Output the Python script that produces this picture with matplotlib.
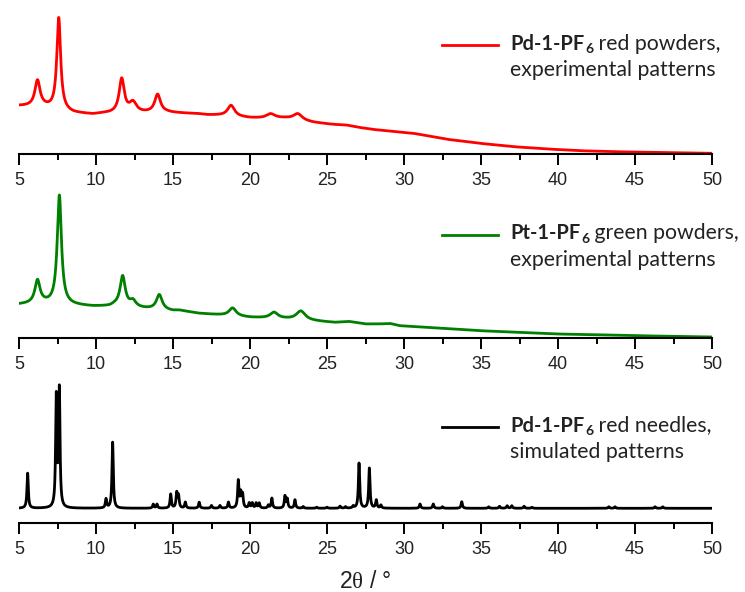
import numpy as np
import matplotlib
matplotlib.use('Agg')
import matplotlib.pyplot as plt
from matplotlib.lines import Line2D
from matplotlib.ticker import MultipleLocator

plt.rcParams['mathtext.fontset'] = 'custom'
plt.rcParams['mathtext.rm'] = 'Liberation Serif'

# --- Pd-1-PF6 red powders (experimental) ---
red_bg_x = [5, 6.6, 8.5, 9.8, 10.5, 11, 13, 14.6, 15.2, 16.7, 17.2, 18, 20, 20.9, 22.3,
            24.1, 25.4, 26.2, 27.1, 28, 30.6, 32.8, 34.9, 37.1, 39.3, 41.4, 43.6, 45.8, 50]
red_bg_y = [48, 47, 41, 39.5, 40.5, 40.5, 41, 41.5, 41, 40, 39, 38.5, 36, 35.5, 35.5,
            31.5, 29.5, 29, 26.5, 24.5, 20.7, 14.7, 10.7, 7.3, 5, 3.3, 2.3, 1.7, 0.7]
red_pos = [6.2, 7.58, 11.67, 12.4, 14.0, 18.77, 21.34, 23.1]
red_amp = [26, 92, 34, 10, 18, 11, 4.5, 6.5]
red_fwhm = [0.4, 0.3, 0.4, 0.55, 0.45, 0.55, 0.7, 0.7]

# --- Pt-1-PF6 green powders (experimental) ---
green_bg_x = [5, 6.6, 8.1, 8.75, 9.8, 10.9, 11.2, 13.05, 15, 15.4, 16.7, 18, 20, 22.3,
              24.6, 25.5, 26.4, 27.5, 28.4, 29.1, 29.7, 32.1, 34.9, 37.5, 39.9, 42.5, 45.1, 50]
green_bg_y = [33.5, 34.5, 33, 32.5, 31.5, 31.5, 32.5, 29.5, 27, 27.5, 24.5, 23, 20.5, 19,
              16.5, 15.5, 16.5, 14, 14, 14.5, 12.3, 10, 7.3, 5.7, 4, 3.3, 2.3, 1]
green_pos = [6.2, 7.62, 11.73, 12.4, 14.11, 18.87, 21.56, 23.3]
green_amp = [23, 109, 30, 6, 15, 8, 6, 9]
green_fwhm = [0.4, 0.33, 0.4, 0.45, 0.45, 0.55, 0.6, 0.7]

# --- Pd-1-PF6 red needles (simulated from single crystal) ---
sim_base = 14.7
sim_pos = [5.56, 7.42, 7.62, 10.65, 11.08, 13.72, 13.96, 14.85, 15.24, 15.36, 15.8,
           16.7, 17.5, 18.05, 18.6, 19.24, 19.4, 19.52, 19.95, 20.15, 20.4, 20.6, 21.19,
           21.42, 22.27, 22.42, 22.92, 23.45, 24.33, 25.0, 25.85, 26.2, 26.7, 27.08,
           27.75, 28.2, 28.5, 31.04, 31.9, 32.5, 33.75, 35.5, 36.2, 36.7, 37.0, 37.8,
           38.3, 43.3, 43.7, 46.3, 46.8]
sim_amp = [35, 110, 117, 9, 66, 4, 4, 14, 15, 12, 6,
           6, 2.7, 2.7, 6, 27, 14, 13, 5, 5, 5, 5, 3,
           10, 12, 9, 8.4, 1.7, 1, 1, 2, 1.5, 2, 45,
           40, 8, 3, 4.3, 4.3, 1.5, 6.6, 1.5, 2, 2.5, 2.5, 2,
           1, 1.5, 1.5, 1.5, 1.5]
sim_fwhm = 0.1

panel_labels = [('Pd-1-PF', '6', ' red powders,', 'experimental patterns'),
                ('Pt-1-PF', '6', ' green powders,', 'experimental patterns'),
                ('Pd-1-PF', '6', ' red needles,', 'simulated patterns')]
colors = ['#ff0000', '#008000', '#000000']

two_theta = np.arange(5.0, 50.0001, 0.005)


def lorentz(x, pos, amp, fwhm):
    hw = fwhm / 2.0
    return amp / (1.0 + ((x - pos) / hw) ** 2)


def pattern(bg_x, bg_y, pos, amp, fwhm):
    y = np.interp(two_theta, bg_x, bg_y)
    for p, a, w in zip(pos, amp, fwhm):
        y = y + lorentz(two_theta, p, a, w)
    return y


red = pattern(red_bg_x, red_bg_y, red_pos, red_amp, red_fwhm)
green = pattern(green_bg_x, green_bg_y, green_pos, green_amp, green_fwhm)
sim = pattern([5, 50], [sim_base, sim_base], sim_pos, sim_amp, [sim_fwhm] * len(sim_pos))

W, H = 745, 592
fig = plt.figure(figsize=(W / 100, H / 100), dpi=100)


def fx(x):
    return x / W


def fy(y):
    return 1 - y / H


# panel extents in pixels (top, bottom)
extents = [(10, 154), (188, 338), (378, 523)]
curves = [red, green, sim]
widths = [2.0, 2.0, 2.0]

axes = []
for (top, bottom), y, c, lw in zip(extents, curves, colors, widths):
    ax = fig.add_axes([fx(19), fy(bottom), 693 / W, (bottom - top) / H])
    ax.plot(two_theta, y, color=c, lw=lw)
    ax.set_xlim(5, 50)
    ax.set_ylim(0, bottom - top)
    for s in ['left', 'right', 'top']:
        ax.spines[s].set_visible(False)
    ax.spines['bottom'].set_linewidth(1.5)
    ax.set_yticks([])
    ax.xaxis.set_major_locator(MultipleLocator(5))
    ax.xaxis.set_minor_locator(MultipleLocator(2.5))
    ax.tick_params(axis='x', which='major', direction='out', length=8, width=1.4, pad=5,
                   labelsize=13, labelcolor='#222222')
    ax.tick_params(axis='x', which='minor', direction='out', length=4.5, width=1.4)
    for lab in ax.get_xticklabels():
        lab.set_family('Liberation Sans')
    axes.append(ax)

# legend entries: line sample + bold compound name with subscript
FS = 15.3
FS_BOLD = 14.4
leg_y = [45, 235, 427]
for ax, ly, c, (name, sub, rest, line2) in zip(axes, leg_y, colors, panel_labels):
    fig.add_artist(Line2D([fx(442), fx(498)], [fy(ly), fy(ly)], transform=fig.transFigure,
                          color=c, lw=2))
    t1 = fig.text(fx(510), fy(ly + 4.5), name, fontsize=FS_BOLD, fontweight='bold',
                  family='Lato', va='baseline', color='#222222')
    t2 = ax.annotate(sub, xy=(1, 0), xycoords=t1, xytext=(0.5, -1.2),
                     textcoords='offset points', fontsize=FS * 0.65, fontweight='bold',
                     family='Lato', va='bottom', ha='left', color='#222222',
                     annotation_clip=False)
    ax.annotate(rest, xy=(1, 0), xycoords=t2, xytext=(0, 1.2),
                textcoords='offset points', fontsize=FS, family='Lato',
                va='bottom', ha='left', color='#222222', annotation_clip=False)
    fig.text(fx(510), fy(ly + 31), line2, fontsize=FS, family='Lato',
             va='baseline', color='#222222')

fig.text(fx(365.5), fy(588), '2$\\mathrm{\\theta}$ / °', ha='center', va='baseline',
         fontsize=16.5, family='Liberation Sans', color='#222222')

fig.savefig('out.png', dpi=100)
